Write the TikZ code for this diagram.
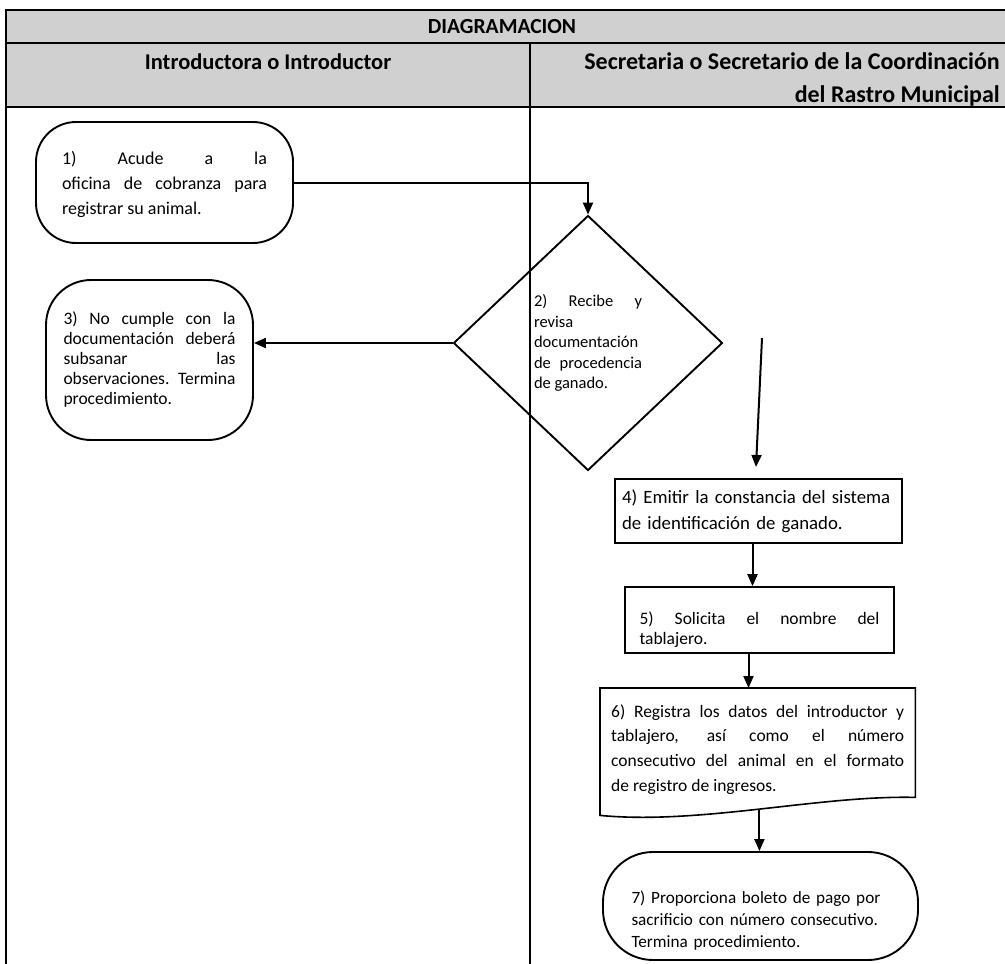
\documentclass[tikz,border=0pt]{standalone}
\usepackage{fontspec}
\setmainfont{Carlito}
\usetikzlibrary{positioning,calc,arrows.meta,shapes.geometric}
\definecolor{HeadGray}{RGB}{208,208,208}

\begin{document}
\begin{tikzpicture}[
    x=1pt,
    y=-1pt,
    font=\fontsize{17.5}{20}\selectfont,
    >={Triangle[length=12pt,width=10pt]},
    table/.style={line width=1.3pt},
    head/.style={
        font=\fontsize{22.5}{33}\selectfont\bfseries,
        inner sep=0pt
    },
    terminal/.style={
        draw,
        line width=1.9pt,
        rounded corners=#1,
        inner sep=0pt,
        align=justify
    },
    process/.style={
        draw,
        line width=1.6pt,
        inner sep=0pt,
        minimum height=64pt
    },
    decision/.style={
        draw,
        diamond,
        line width=1.9pt,
        inner sep=0pt,
        minimum width=269pt,
        minimum height=255pt,
        text width=108pt,
        align=justify,
        font=\fontsize{16.5}{20.5}\selectfont
    },
    arrow/.style={
        ->,
        line width=2pt
    }
]
\useasboundingbox (0,0) rectangle (1005,964);

% table frame
\fill[HeadGray] (6,10) rectangle (1005,107);
\draw[table] (1005,10) -- (6,10) -- (6,964);
\draw[table] (6,43) -- (1005,43);
\draw[table] (6,107) -- (1005,107);
\draw[table] (530,43) -- (530,964);

\node[head, font=\fontsize{21.5}{33}\selectfont\bfseries] (title) at (502,27) {DIAGRAMACION};
\node[head] (laneA) at (268,62) {Introductora o Introductor};
\node[head, align=right, anchor=east, font=\fontsize{24}{33}\selectfont\bfseries] (laneB) at (1000,79)
    {Secretaria o Secretario de la Coordinación\\del Rastro Municipal\hspace{30pt}};

% introductor
\node[terminal=40pt, minimum width=257pt, minimum height=121pt, text width=205pt,
      font=\fontsize{18}{25}\selectfont] (s1) at (164.5,182.5)
    {\rule{0pt}{17pt}1) Acude a la\linebreak oficina de cobranza para\linebreak registrar su animal.};
\node[terminal=45pt, minimum width=207pt, minimum height=160pt, text width=172pt] (s3) at (149.5,360)
    {3) No cumple con la\linebreak documentación deberá\linebreak subsanar las\linebreak observaciones. Termina\linebreak procedimiento.};

% secretaria
\node[decision] (s2) at (588,343)
    {2) Recibe y\linebreak revisa\linebreak documentación\linebreak de procedencia\linebreak de ganado.};

\node[process, minimum width=287pt, text width=273pt, align=left,
      font=\fontsize{18.8}{26}\selectfont] (s4) at (758.5,511)
    {4) Emitir la constancia del sistema\\de identificación de ganado.};
\node[process, minimum width=269pt, minimum height=66pt, text width=240pt, align=justify,
      font=\fontsize{17.5}{19.5}\selectfont] (s5) at (759.5,620)
    {\rule{0pt}{32pt}5) Solicita el nombre del\linebreak tablajero.};

\node[anchor=north west, inner sep=0pt, minimum width=315pt, minimum height=109pt,
      text width=293pt, align=justify, font=\fontsize{17.5}{24.7}\selectfont] (s6) at (600,688)
    {\rule{0pt}{26pt}6) Registra los datos del introductor y\linebreak tablajero, así como el número\linebreak consecutivo del animal en el formato\linebreak de registro de ingresos.};
\draw[line width=1.6pt] (s6.north west) -- (s6.north east) -- (s6.south east)
    .. controls (820,795) and (700,825) .. coordinate[pos=0.5] (w6) ([yshift=-18pt]s6.south west) -- cycle;

\node[terminal=50pt, minimum width=315pt, minimum height=108pt, text width=258pt, align=left,
      font=\fontsize{17.2}{22}\selectfont] (s7) at (760.5,906)
    {\rule{0pt}{42pt}7) Proporciona boleto de pago por\\sacrificio con número consecutivo.\\Termina procedimiento.};

\coordinate (c4a) at (762,338);
\coordinate (c4b) at (756,467);

% connectors
\draw[arrow] (s1.east) -| (s2.north);
\draw[arrow] (s2.west) -- (s2.west -| s3.east);
\draw[arrow] (c4a) -- (c4b);
\draw[arrow] ([xshift=-6pt]s4.south) -- ([xshift=-6pt]s4.south |- s5.north);
\draw[arrow] ([xshift=-11pt]s5.south) -- ([xshift=-11pt]s5.south |- s6.north);
\draw[arrow] (w6) -- (w6 |- s7.north);

\end{tikzpicture}
\end{document}
